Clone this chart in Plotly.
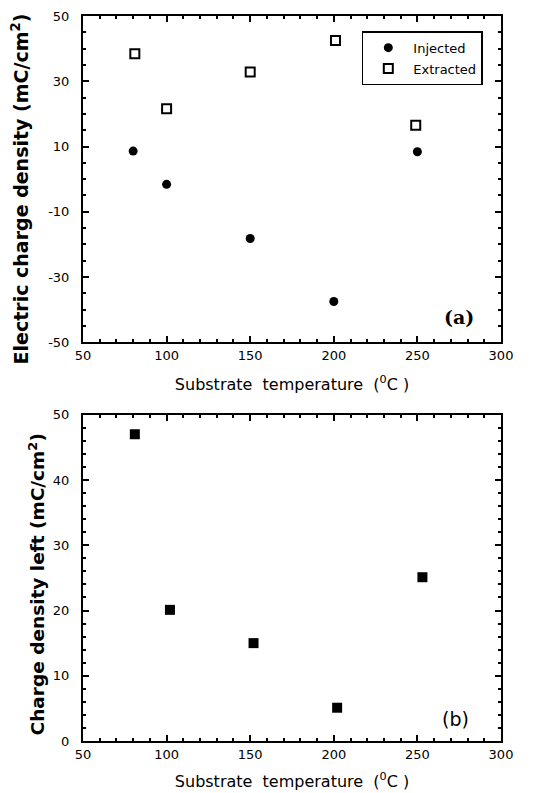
import plotly.graph_objects as go
from plotly.subplots import make_subplots

# Panel (a)
inj_x = [80, 100, 150, 200, 250]
inj_y = [8.6, -1.6, -18.2, -37.5, 8.4]
ext_x = [81, 100, 150, 201, 249]
ext_y = [38.4, 21.6, 32.8, 42.5, 16.5]
# Panel (b)
left_x = [81, 102, 152, 202, 253]
left_y = [47.0, 20.1, 15.0, 5.1, 25.1]

x_ticks = [50, 100, 150, 200, 250, 300]
ya_ticks = [-50, -30, -10, 10, 30, 50]
ya_labels = ["-50", "-30", "-10", "10", "30", "50"]
yb_ticks = [0, 10, 20, 30, 40, 50]

font_fam = "DejaVu Sans"

fig = make_subplots(rows=2, cols=1, vertical_spacing=0.1)

fig.add_trace(go.Scatter(x=inj_x, y=inj_y, mode="markers", name="Injected", legendgroup="a",
                         marker=dict(symbol="circle", size=9, color="black")), row=1, col=1)
fig.add_trace(go.Scatter(x=ext_x, y=ext_y, mode="markers", name="Extracted", legendgroup="b",
                         marker=dict(symbol="square-open", size=9, color="black",
                                     line=dict(width=2, color="black"))), row=1, col=1)
fig.add_trace(go.Scatter(x=left_x, y=left_y, mode="markers", name="Charge left",
                         showlegend=False,
                         marker=dict(symbol="square", size=10, color="black")), row=2, col=1)

axis_common = dict(showline=True, linecolor="black", linewidth=2, mirror="ticks",
                   ticks="inside", ticklen=6, tickwidth=1.5, tickcolor="black",
                   showgrid=False, zeroline=False, automargin=False,
                   ticklabeloverflow="allow",
                   tickfont=dict(family=font_fam, size=13, color="black"))

fig.update_xaxes(range=[50, 300], tickvals=x_ticks,
                 minor=dict(dtick=10, ticks="inside", ticklen=3, tickcolor="black", tickwidth=1.5),
                 title=dict(text="Substrate  temperature  (<sup>0</sup>C )",
                            font=dict(family=font_fam, size=16, color="black"), standoff=17),
                 row=1, col=1, **axis_common)
fig.update_xaxes(range=[50, 300], tickvals=x_ticks,
                 minor=dict(dtick=10, ticks="inside", ticklen=3, tickcolor="black", tickwidth=1.5),
                 title=dict(text="Substrate  temperature  (<sup>0</sup>C )",
                            font=dict(family=font_fam, size=16, color="black"), standoff=15),
                 row=2, col=1, **axis_common)

fig.update_yaxes(range=[-50, 50], tickvals=ya_ticks, ticktext=ya_labels, ticklabelstandoff=9,
                 minor=dict(dtick=5, ticks="inside", ticklen=3, tickcolor="black", tickwidth=1.5),
                 row=1, col=1, **axis_common)
fig.update_yaxes(range=[0, 50], tickvals=yb_ticks, ticklabelstandoff=9,
                 minor=dict(dtick=2, ticks="inside", ticklen=3, tickcolor="black", tickwidth=1.5),
                 row=2, col=1, **axis_common)

# the page body has an 8px default margin, so the figure is made 8px smaller
fig.update_layout(
    width=540, height=785,
    margin=dict(l=75, r=47, t=8, b=52),
    paper_bgcolor="white", plot_bgcolor="white",
    legend=dict(x=0.667, y=0.979, xanchor="left", yanchor="top",
                bordercolor="black", borderwidth=1.5, bgcolor="white",
                font=dict(family=font_fam, size=13, color="black"),
                itemwidth=40, tracegroupgap=1, traceorder="grouped"),
)
fig.update_yaxes(domain=[0.55, 1.0], row=1, col=1)
fig.update_yaxes(domain=[0.0, 0.45], row=2, col=1)

fig.add_annotation(text="<b>Electric charge density (mC/cm<sup>2</sup>)</b>",
                   xref="paper", yref="paper", x=-0.151, y=0.762, textangle=-90,
                   showarrow=False, xanchor="center", yanchor="middle",
                   font=dict(family=font_fam, size=19, color="black"))
fig.add_annotation(text="<b>Charge density left (mC/cm<sup>2</sup>)</b>",
                   xref="paper", yref="paper", x=-0.110, y=0.216, textangle=-90,
                   showarrow=False, xanchor="center", yanchor="middle",
                   font=dict(family=font_fam, size=18.5, color="black"))

fig.add_annotation(text="<b>(a)</b>", xref="x", yref="y", x=275, y=-42.4, showarrow=False,
                   font=dict(family="DejaVu Serif", size=19, color="black"))
fig.add_annotation(text="(b)", xref="x2", yref="y2", x=273, y=3.4, showarrow=False,
                   font=dict(family=font_fam, size=19, color="black"))

fig.write_html("out.html")
